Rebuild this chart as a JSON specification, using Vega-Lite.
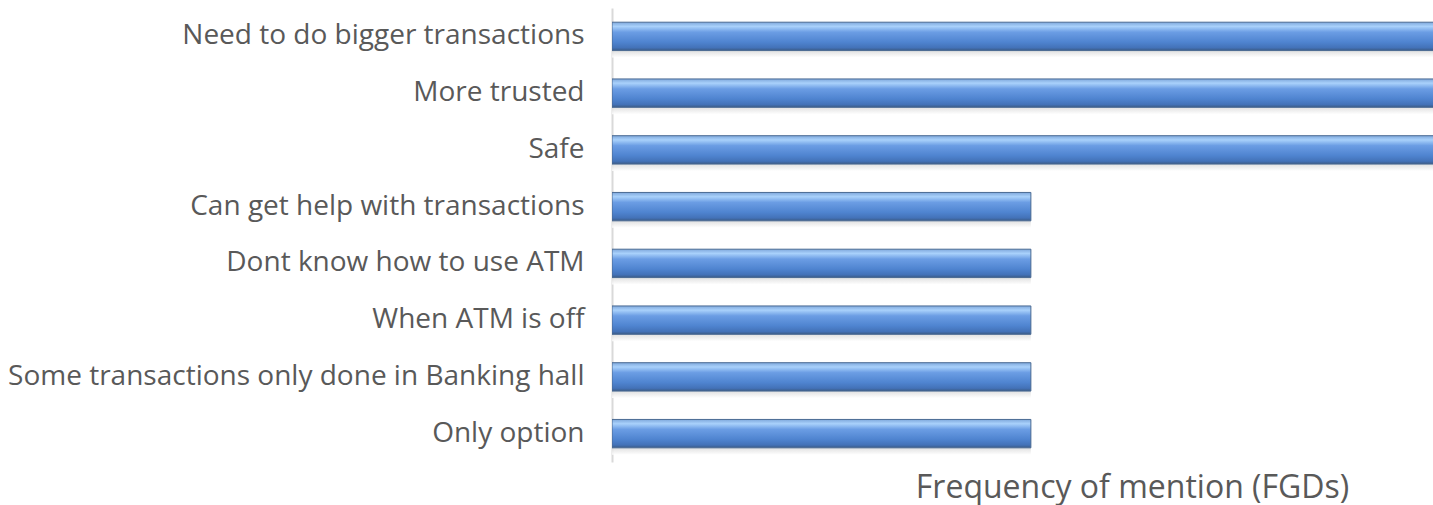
{
  "$schema": "https://vega.github.io/schema/vega-lite/v6.json",
  "autosize": {"type": "none"},
  "width": 821,
  "height": 454,
  "padding": {"left": 612, "top": 8, "right": 0, "bottom": 43},
  "background": "white",
  "config": {"view": {"stroke": null}, "font": "Open Sans"},
  "data": {
    "values": [
      {"reason": "Need to do bigger transactions", "freq": 2},
      {"reason": "More trusted", "freq": 2},
      {"reason": "Safe", "freq": 2},
      {"reason": "Can get help with transactions", "freq": 1},
      {"reason": "Dont know how to use ATM", "freq": 1},
      {"reason": "When ATM is off", "freq": 1},
      {"reason": "Some transactions only done in Banking hall", "freq": 1},
      {"reason": "Only option", "freq": 1}
    ]
  },
  "encoding": {
    "y": {
      "field": "reason",
      "type": "nominal",
      "sort": null,
      "scale": {"paddingInner": 0.5, "paddingOuter": 0.25},
      "axis": {
        "title": null,
        "ticks": false,
        "labelPadding": 28,
        "labelFontSize": 28,
        "labelColor": "#595959",
        "labelLimit": 700,
        "domainColor": "#d9d9d9",
        "domainWidth": 2
      }
    },
    "x": {
      "field": "freq",
      "type": "quantitative",
      "scale": {"domain": [0, 1.96], "nice": false},
      "axis": {
        "title": "Frequency of mention (FGDs)",
        "titleFontSize": 32,
        "titleFontWeight": "normal",
        "titleColor": "#595959",
        "titleX": 520,
        "titleY": 35,
        "titleAlign": "center",
        "titleBaseline": "alphabetic",
        "labels": false,
        "ticks": false,
        "domain": false,
        "grid": false
      }
    }
  },
  "layer": [
    {
      "mark": {
        "type": "bar",
        "clip": true,
        "yOffset": 7,
        "fill": {
          "x1": 0, "y1": 0, "x2": 0, "y2": 1,
          "gradient": "linear",
          "stops": [
            {"offset": 0, "color": "#ffffff"},
            {"offset": 0.55, "color": "#bdbdbd"},
            {"offset": 1, "color": "#ffffff"}
          ]
        },
        "opacity": 0.85
      }
    },
    {
      "mark": {
        "type": "bar",
        "clip": true,
        "stroke": "#4a6a93",
        "strokeWidth": 1,
        "fill": {
          "x1": 0, "y1": 0, "x2": 0, "y2": 1,
          "gradient": "linear",
          "stops": [
            {"offset": 0, "color": "#7fa8dc"},
            {"offset": 0.15, "color": "#a9d1fb"},
            {"offset": 0.35, "color": "#6b9de4"},
            {"offset": 0.7, "color": "#4f84d0"},
            {"offset": 0.9, "color": "#4372b8"},
            {"offset": 1, "color": "#3b5b86"}
          ]
        }
      }
    }
  ]
}
